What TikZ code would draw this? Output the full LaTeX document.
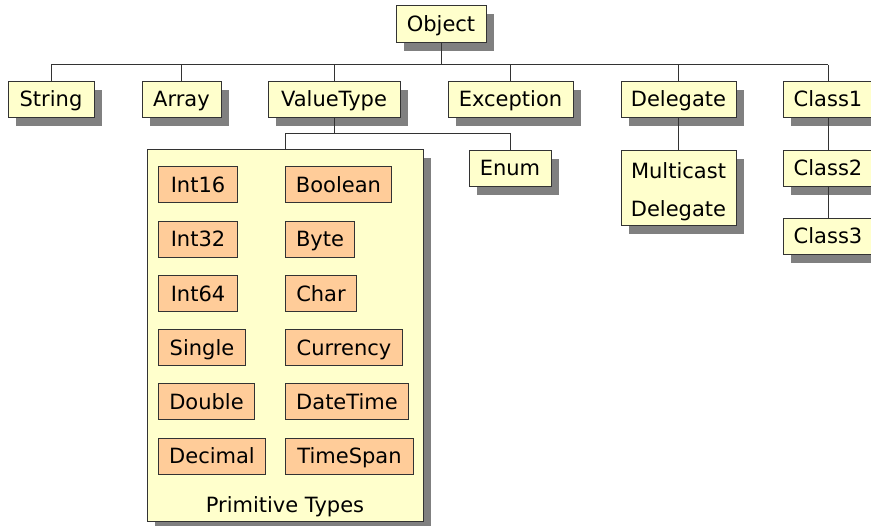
\documentclass[tikz,border=0pt]{standalone}
\usepackage{fontspec}
\setmainfont{DejaVu Sans}
\usetikzlibrary{shadows}
\definecolor{paleyellow}{HTML}{FFFFCC}
\definecolor{paleorange}{HTML}{FFCC99}
\definecolor{shadowgray}{HTML}{808080}
\definecolor{edgegray}{HTML}{333333}
\tikzset{
  base/.style={draw=edgegray, line width=1pt, inner sep=0pt, minimum height=36pt,
    font=\fontsize{21}{25}\selectfont, text=black, text height=18pt, text depth=4pt},
  ybox/.style={base, fill=paleyellow,
    drop shadow={shadow xshift=8pt, shadow yshift=-8pt, fill=shadowgray, opacity=1}},
  obox/.style={base, fill=paleorange, text height=19pt, text depth=4pt},
  wire/.style={draw=edgegray, line width=1pt},
}
\begin{document}
\begin{tikzpicture}[x=1pt, y=-1pt]
  \clip (0,0) rectangle (871,526);
  \fill[white] (0,0) rectangle (871,526);

  % root and first level
  \node[ybox, minimum width=90pt, minimum height=37pt] (obj) at (441,24.5) {Object};
  \node[ybox, minimum width=86pt]  (str) at (51,100)    {String};
  \node[ybox, minimum width=79pt]  (arr) at (181.5,100) {Array};
  \node[ybox, minimum width=132pt] (vt)  at (334,100)   {ValueType};
  \node[ybox, minimum width=125pt] (exc) at (510.5,100) {Exception};
  \node[ybox, minimum width=115pt] (del) at (678.5,100) {Delegate};
  \node[ybox, minimum width=90pt]  (c1)  at (828,100)   {Class1};

  % second level
  \node[ybox, minimum width=276pt, minimum height=372pt] (prim) at (285,336) {};
  \node[font=\fontsize{21}{25}\selectfont] (primlbl) at (285,507) {Primitive Types};
  \node[ybox, minimum width=82pt]  (enum) at (510,169) {Enum};
  \node[ybox, minimum width=115pt, minimum height=75pt] (mcd) at (678.5,188.5) {};
  \node[align=center, inner sep=0pt, font=\fontsize{21}{38}\selectfont, yshift=-3pt]
        (mcdlbl) at (mcd.center) {Multicast\\Delegate};
  \node[ybox, minimum width=90pt]  (c2)  at (828,169) {Class2};
  \node[ybox, minimum width=90pt]  (c3)  at (828,237) {Class3};

  % primitive types, two columns
  \node[obox, anchor=west, minimum width=79pt]  (i16) at (158,185)   {Int16};
  \node[obox, anchor=west, minimum width=79pt]  (i32) at (158,239.5) {Int32};
  \node[obox, anchor=west, minimum width=79pt]  (i64) at (158,294)   {Int64};
  \node[obox, anchor=west, minimum width=87pt]  (sgl) at (158,348)   {Single};
  \node[obox, anchor=west, minimum width=96pt]  (dbl) at (158,402)   {Double};
  \node[obox, anchor=west, minimum width=107pt] (dec) at (158,456.5) {Decimal};
  \node[obox, anchor=west, minimum width=106pt] (bool) at (285,185)   {Boolean};
  \node[obox, anchor=west, minimum width=69pt]  (byte) at (285,239.5) {Byte};
  \node[obox, anchor=west, minimum width=71pt]  (chr)  at (285,294)   {Char};
  \node[obox, anchor=west, minimum width=117pt] (cur)  at (285,348)   {Currency};
  \node[obox, anchor=west, minimum width=123pt] (dt)   at (285,402)   {DateTime};
  \node[obox, anchor=west, minimum width=128pt] (ts)   at (285,456.5) {TimeSpan};

  % connectors: Object bus
  \coordinate (bus) at (0,65);
  \draw[wire] (obj.south) -- (obj.south |- bus);
  \draw[wire] (str.north |- bus) -- (c1.north |- bus);
  \foreach \n in {str,arr,vt,exc,del,c1}
    \draw[wire] (\n.north) -- (\n.north |- bus);

  % ValueType bus
  \coordinate (vbus) at (0,134);
  \draw[wire] (vt.south) -- (vt.south |- vbus);
  \draw[wire] (prim.north) -- (prim.north |- vbus) -- (enum.north |- vbus) -- (enum.north);

  % Delegate and class chain
  \draw[wire] (del.south) -- (mcd.north);
  \draw[wire] (c1.south) -- (c2.north);
  \draw[wire] (c2.south) -- (c3.north);
\end{tikzpicture}
\end{document}
